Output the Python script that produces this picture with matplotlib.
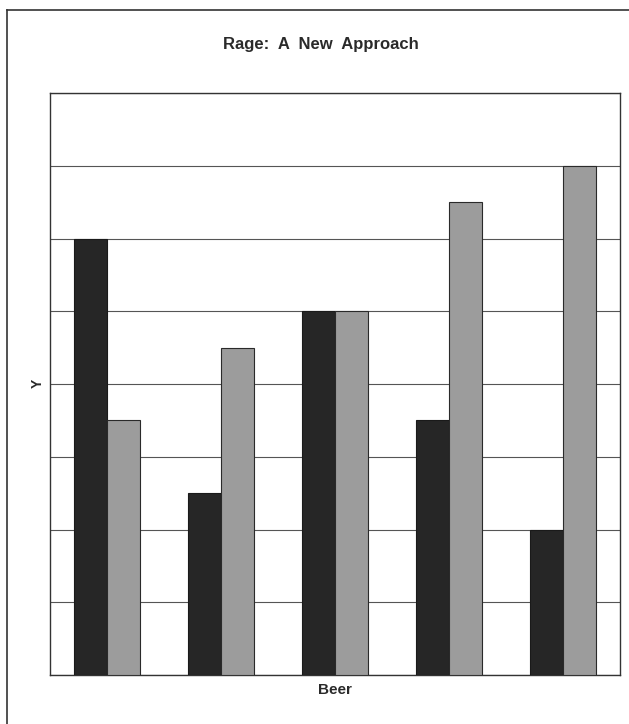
import matplotlib
matplotlib.use("Agg")
import matplotlib.pyplot as plt
import numpy as np
from matplotlib.lines import Line2D

title = "Rage:  A  New  Approach"
x_label = "Beer"
y_label = "Y"
groups = [1, 2, 3, 4, 5]
series_dark = [6, 2.5, 5, 3.5, 2]
series_gray = [3.5, 4.5, 5, 6.5, 7]
y_max = 8

plt.rcParams['font.family'] = ['Liberation Sans', 'DejaVu Sans']

fig = plt.figure(figsize=(6.29, 7.24), dpi=100)
ax = fig.add_axes([50/629, 1-675/724, 570/629, 582/724])

x = np.arange(len(groups))
w = 0.29
ax.bar(x - w/2, series_dark, width=w, color='#262626', edgecolor='#1a1a1a', linewidth=0.8, zorder=3)
ax.bar(x + w/2, series_gray, width=w, color='#9c9c9c', edgecolor='#2a2a2a', linewidth=0.8, zorder=3)

ax.set_xlim(-0.5, len(groups) - 0.5)
ax.set_ylim(0, y_max)
ax.set_yticks(np.arange(0, y_max + 1, 1))
ax.yaxis.grid(True, color='#555555', linewidth=0.8, zorder=0)
ax.set_axisbelow(True)
ax.tick_params(left=False, bottom=False, labelleft=False, labelbottom=False)
for s in ax.spines.values():
    s.set_color('#333333')
    s.set_linewidth(1.0)

fig.text(321/629, 1-44/724, title, ha='center', va='center', fontsize=12, fontweight='bold', color='#2a2a2a')
fig.text(38/629, 1-383/724, y_label, ha='center', va='center', rotation=90, fontsize=10, fontweight='bold', color='#2a2a2a')
fig.text(335/629, 1-690/724, x_label, ha='center', va='center', fontsize=11, fontweight='bold', color='#2a2a2a')

# outer frame
fig.add_artist(Line2D([7/629, 7/629], [0, 1-10/724], transform=fig.transFigure, color='#333333', linewidth=1.2))
fig.add_artist(Line2D([7/629, 1.0], [1-10/724, 1-10/724], transform=fig.transFigure, color='#333333', linewidth=1.2))

fig.savefig("out.png", dpi=100)
